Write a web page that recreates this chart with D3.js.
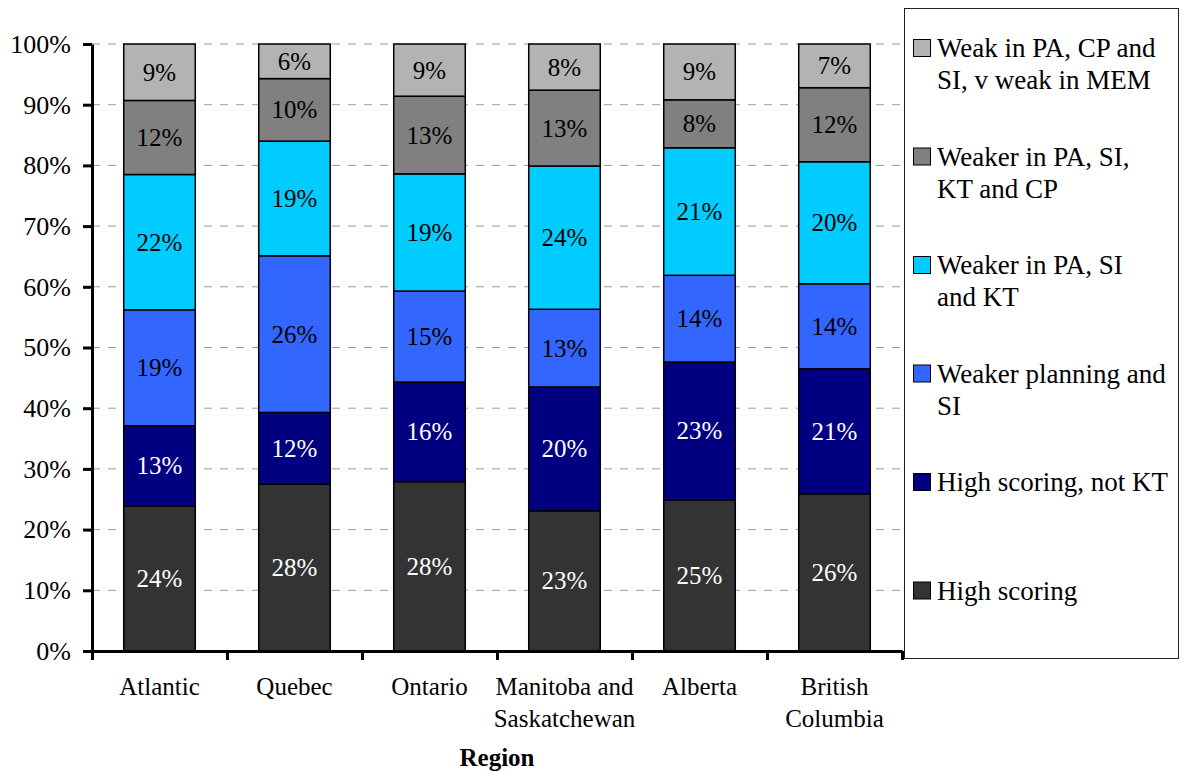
<!DOCTYPE html>
<html>
<head>
<meta charset="utf-8">
<script src="https://cdn.jsdelivr.net/npm/d3@7"></script>
<style>
  body { margin: 0; background: #fff; }
</style>
</head>
<body>
<figure id="bar" style="margin:0"></figure>
<script>
// regions along the x axis, with how their names wrap
const REGIONS = ["Atlantic", "Quebec", "Ontario", "Manitoba and Saskatchewan", "Alberta", "British Columbia"];
const REGION_LINES = [["Atlantic"], ["Quebec"], ["Ontario"], ["Manitoba and", "Saskatchewan"], ["Alberta"], ["British", "Columbia"]];

// series, bottom of the stack first (percent of region)
const highScoring    = [23.9, 27.5, 27.9, 23.1, 24.9, 25.9];
const highNotKT      = [13.2, 11.8, 16.4, 20.4, 22.7, 20.6];
const weakerPlanSI   = [19.1, 25.8, 15.0, 12.8, 14.3, 14.0];
const weakerPaSiKt   = [22.3, 18.9, 19.3, 23.6, 21.0, 20.1];
const weakerPaSiKtCp = [12.2, 10.3, 12.8, 12.5, 7.9, 12.2];
const weakAll        = [9.3, 5.7, 8.6, 7.6, 9.2, 7.2];

const SERIES_KEYS = ["high", "highNotKT", "weakPlan", "weakPaSiKt", "weakPaSiKtCp", "weakAll"];
const SERIES_VALUES = [highScoring, highNotKT, weakerPlanSI, weakerPaSiKt, weakerPaSiKtCp, weakAll];
const SERIES_NAMES = [
  ["High scoring"],
  ["High scoring, not KT"],
  ["Weaker planning and", "SI"],
  ["Weaker in PA, SI", "and KT"],
  ["Weaker in PA, SI,", "KT and CP"],
  ["Weak in PA, CP and", "SI, v weak in MEM"]
];
const COLORS = ["#333333", "#000080", "#3366ff", "#00ccff", "#808080", "#b3b3b3"];
const LABEL_COLORS = ["#fff", "#fff", "#000", "#000", "#000", "#000"];
const Y_TICKS = [0, 10, 20, 30, 40, 50, 60, 70, 80, 90, 100];

const FONT = "'Liberation Serif', 'DejaVu Serif', serif";
const width = 1185, height = 773;
const plot = {left: 92, right: 902, top: 44, bottom: 651};

// table for d3.stack
const table = REGIONS.map((r, i) => {
  const row = {region: r};
  SERIES_KEYS.forEach((k, j) => row[k] = SERIES_VALUES[j][i]);
  return row;
});

const svg = d3.select("figure#bar")
  .append("svg")
  .attr("width", width)
  .attr("height", height);

const x = d3.scaleBand()
  .domain(REGIONS)
  .range([plot.left, plot.right])
  .paddingInner(0.47)
  .paddingOuter(0.235);

// boundaries between categories, for the tick marks
const xEdges = d3.scaleLinear().domain([0, REGIONS.length]).range([plot.left, plot.right]);

const y = d3.scaleLinear()
  .domain([0, 100])
  .range([plot.bottom, plot.top]);

// dashed gridlines
svg.append("g")
  .selectAll("line")
  .data(Y_TICKS.filter(d => d > 0))
  .enter()
  .append("line")
  .attr("x1", plot.left)
  .attr("x2", plot.right)
  .attr("y1", d => y(d))
  .attr("y2", d => y(d))
  .attr("stroke", "#9a9a9a")
  .attr("stroke-width", 1)
  .attr("stroke-dasharray", "8,8");

// stacked bars
const stacked = d3.stack().keys(SERIES_KEYS)(table);

const layers = svg.append("g")
  .selectAll("g")
  .data(stacked)
  .enter()
  .append("g")
  .attr("fill", (d, i) => COLORS[i]);

layers.selectAll("rect")
  .data(d => d)
  .enter()
  .append("rect")
  .attr("x", d => x(d.data.region))
  .attr("y", d => y(d[1]))
  .attr("width", x.bandwidth())
  .attr("height", d => y(d[0]) - y(d[1]))
  .attr("stroke", "#000")
  .attr("stroke-width", 1.5);

// value labels
stacked.forEach((layer, i) => {
  svg.append("g")
    .selectAll("text")
    .data(layer)
    .enter()
    .append("text")
    .attr("x", d => x(d.data.region) + x.bandwidth() / 2)
    .attr("y", d => y((d[0] + d[1]) / 2))
    .attr("dy", "0.34em")
    .attr("text-anchor", "middle")
    .attr("font-size", 25)
    .attr("fill", LABEL_COLORS[i])
    .text(d => Math.round(d[1] - d[0]) + "%");
});

// y axis
const yAxis = svg.append("g")
  .attr("transform", "translate(" + plot.left + ",0)")
  .call(d3.axisLeft(y).tickValues(Y_TICKS).tickFormat(d => d + "%").tickSize(9).tickSizeOuter(0).tickPadding(12));
yAxis.select(".domain").attr("stroke", "#000").attr("stroke-width", 3);
yAxis.selectAll(".tick line").attr("stroke", "#000").attr("stroke-width", 3);
yAxis.selectAll("text").attr("font-size", 26).attr("fill", "#000");

// x axis, ticks between categories
const xAxis = svg.append("g")
  .attr("transform", "translate(0," + plot.bottom + ")")
  .call(d3.axisBottom(xEdges).ticks(REGIONS.length).tickFormat("").tickSize(9).tickSizeOuter(0));
xAxis.select(".domain").attr("stroke", "#000").attr("stroke-width", 3);
xAxis.selectAll(".tick line").attr("stroke", "#000").attr("stroke-width", 3);

// category labels
svg.append("g")
  .selectAll("text")
  .data(REGIONS)
  .enter()
  .append("text")
  .attr("x", d => x(d) + x.bandwidth() / 2)
  .attr("y", 695)
  .attr("text-anchor", "middle")
  .attr("font-size", 25)
  .each(function (d, i) {
    d3.select(this).selectAll("tspan")
      .data(REGION_LINES[i])
      .enter()
      .append("tspan")
      .attr("x", x(d) + x.bandwidth() / 2)
      .attr("dy", (t, k) => k === 0 ? 0 : 32)
      .text(t => t);
  });

svg.append("text")
  .attr("x", (plot.left + plot.right) / 2)
  .attr("y", 766)
  .attr("text-anchor", "middle")
  .attr("font-size", 25)
  .attr("font-weight", "bold")
  .text("Region");

// legend
const legend = svg.append("g");
legend.append("rect")
  .attr("x", 904.5)
  .attr("y", 8.5)
  .attr("width", 274)
  .attr("height", 650)
  .attr("fill", "#fff")
  .attr("stroke", "#222")
  .attr("stroke-width", 1);

const legendOrder = d3.range(SERIES_KEYS.length).reverse();
legendOrder.forEach((s, i) => {
  const cy = 48 + i * 108.5;
  legend.append("rect")
    .attr("x", 913.5)
    .attr("y", cy - 8.5)
    .attr("width", 17)
    .attr("height", 17)
    .attr("fill", COLORS[s])
    .attr("stroke", "#000")
    .attr("stroke-width", 1);
  const t = legend.append("text")
    .attr("x", 937)
    .attr("y", cy + 9)
    .attr("font-size", 27);
  SERIES_NAMES[s].forEach((line, k) => {
    t.append("tspan")
      .attr("x", 937)
      .attr("dy", k === 0 ? 0 : 32)
      .text(line);
  });
});

// every text in the serif face
svg.selectAll("text").style("font-family", FONT);
</script>
</body>
</html>
